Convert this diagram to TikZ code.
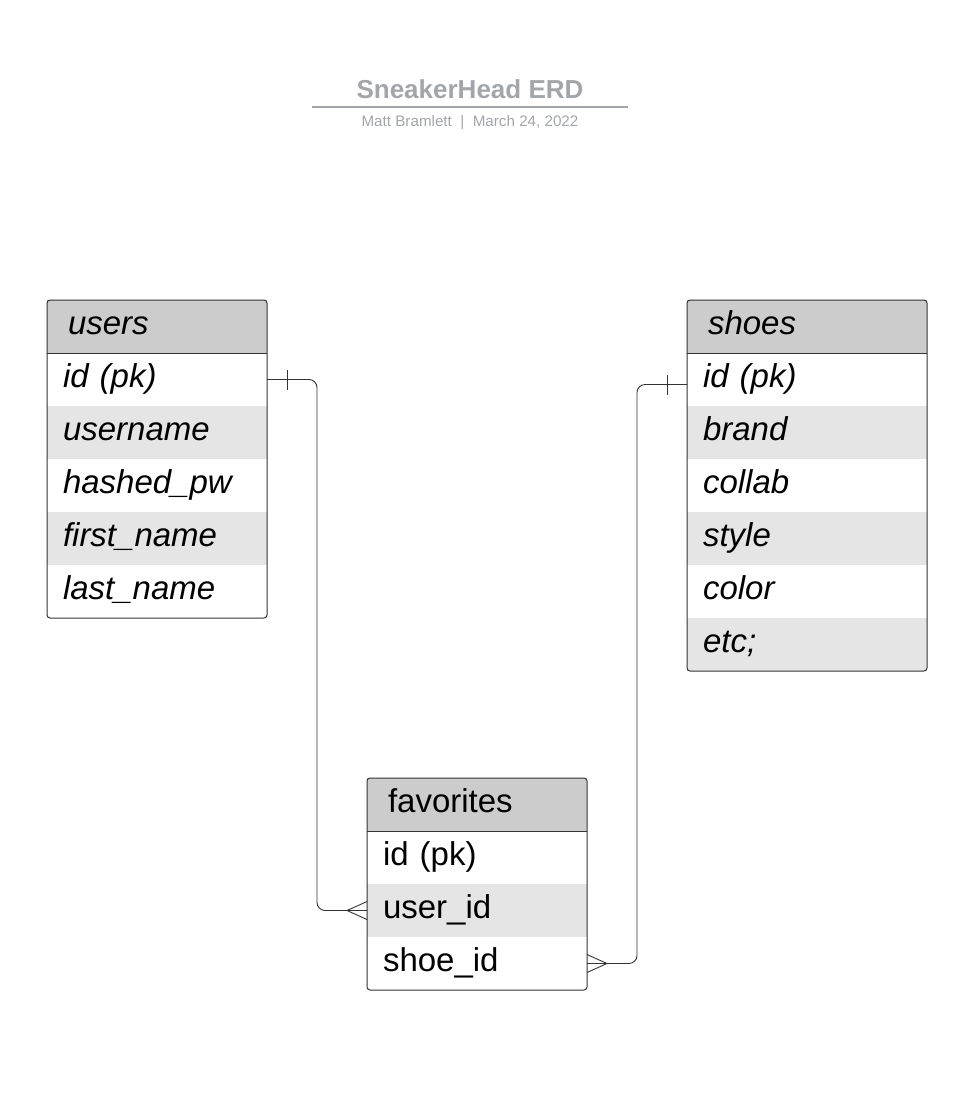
\documentclass[tikz,border=0pt]{standalone}
\usepackage{fontspec}
\setmainfont{Liberation Sans}
\usetikzlibrary{positioning}

\definecolor{titlegray}{HTML}{A2A6AA}
\definecolor{headgray}{HTML}{CCCCCC}
\definecolor{stripegray}{HTML}{E5E5E5}
\definecolor{linegray}{HTML}{333333}

\newcommand{\cellfont}{\fontsize{33}{40}\selectfont}

\tikzset{
  cell/.style={rectangle, minimum height=53pt, inner ysep=0pt, inner xsep=16pt,
    outer sep=0pt, text height=24pt, text depth=8pt,
    text width=#1, align=left, font=\cellfont, anchor=north west},
  cell/.default=188pt,
  stripe/.style={cell=#1, fill=stripegray},
  stripe/.default=188pt,
  head/.style={cell=#1, fill=headgray, inner xsep=21pt},
  head/.default=178pt,
  ital/.style={font=\cellfont\itshape},
  frame/.style={draw=linegray, line width=1pt, rounded corners=3pt},
  link/.style={draw=linegray, line width=0.9pt, rounded corners=8pt},
  title/.style={font=\fontsize{26}{30}\selectfont\bfseries, text=titlegray},
  subtitle/.style={font=\fontsize{15.2}{18}\selectfont, text=titlegray}
}

\begin{document}
\begin{tikzpicture}[x=1pt, y=-1pt]

\useasboundingbox (0,0) rectangle (975,1095);

% title block
\node[title] (title) at (470,89) {SneakerHead ERD};
\node[subtitle] (sub) at (470,123) {Matt Bramlett\ \ |\ \ March 24, 2022};
\coordinate (rule-l) at (312,107);
\coordinate (rule-r) at (628,107);
\draw[titlegray, line width=1.5pt] (rule-l) -- (rule-r);

% users
\node[head, ital] (users) at (47,300) {users};
\node[cell, ital, below=0pt of users] (users-id) {id (pk)};
\node[stripe, ital, below=0pt of users-id] (users-name) {username};
\node[cell, ital, below=0pt of users-name] (users-pw) {hashed\_pw};
\node[stripe, ital, below=0pt of users-pw] (users-first) {first\_name};
\node[cell, ital, below=0pt of users-first] (users-last) {last\_name};
\draw[frame] (users.north west) rectangle (users-last.south east);
\draw[linegray, line width=1pt] (users.south west) -- (users.south east);

% shoes
\node[head=198pt, ital] (shoes) at (687,300) {shoes};
\node[cell=208pt, ital, below=0pt of shoes] (shoes-id) {id (pk)};
\node[stripe=208pt, ital, below=0pt of shoes-id] (shoes-brand) {brand};
\node[cell=208pt, ital, below=0pt of shoes-brand] (shoes-collab) {collab};
\node[stripe=208pt, ital, below=0pt of shoes-collab] (shoes-style) {style};
\node[cell=208pt, ital, below=0pt of shoes-style] (shoes-color) {color};
\node[stripe=208pt, ital, below=0pt of shoes-color] (shoes-etc) {etc;};
\draw[frame] (shoes.north west) rectangle (shoes-etc.south east);
\draw[linegray, line width=1pt] (shoes.south west) -- (shoes.south east);

% favorites
\node[head] (fav) at (367,778) {favorites};
\node[cell, below=0pt of fav] (fav-id) {id (pk)};
\node[stripe, below=0pt of fav-id] (fav-user) {user\_id};
\node[cell, below=0pt of fav-user] (fav-shoe) {shoe\_id};
\draw[frame] (fav.north west) rectangle (fav-shoe.south east);
\draw[linegray, line width=1pt] (fav.south west) -- (fav.south east);

% relations
\draw[link] (users-id.east) -- ++(50,0) |- (fav-user.west);
\draw[link] ([yshift=-5pt]shoes-id.west) -- ++(-50,0) |- (fav-shoe.east);

% one side
\draw[link] ([xshift=20pt]users-id.east) ++(0,-10) -- ++(0,20);
\draw[link] ([xshift=-20pt,yshift=-5pt]shoes-id.west) ++(0,-10) -- ++(0,20);

% many side
\draw[link] ([xshift=-20pt]fav-user.west) -- ++(20,-9);
\draw[link] ([xshift=-20pt]fav-user.west) -- ++(20,9);
\draw[link] ([xshift=20pt]fav-shoe.east) -- ++(-20,-9);
\draw[link] ([xshift=20pt]fav-shoe.east) -- ++(-20,9);

\end{tikzpicture}
\end{document}
